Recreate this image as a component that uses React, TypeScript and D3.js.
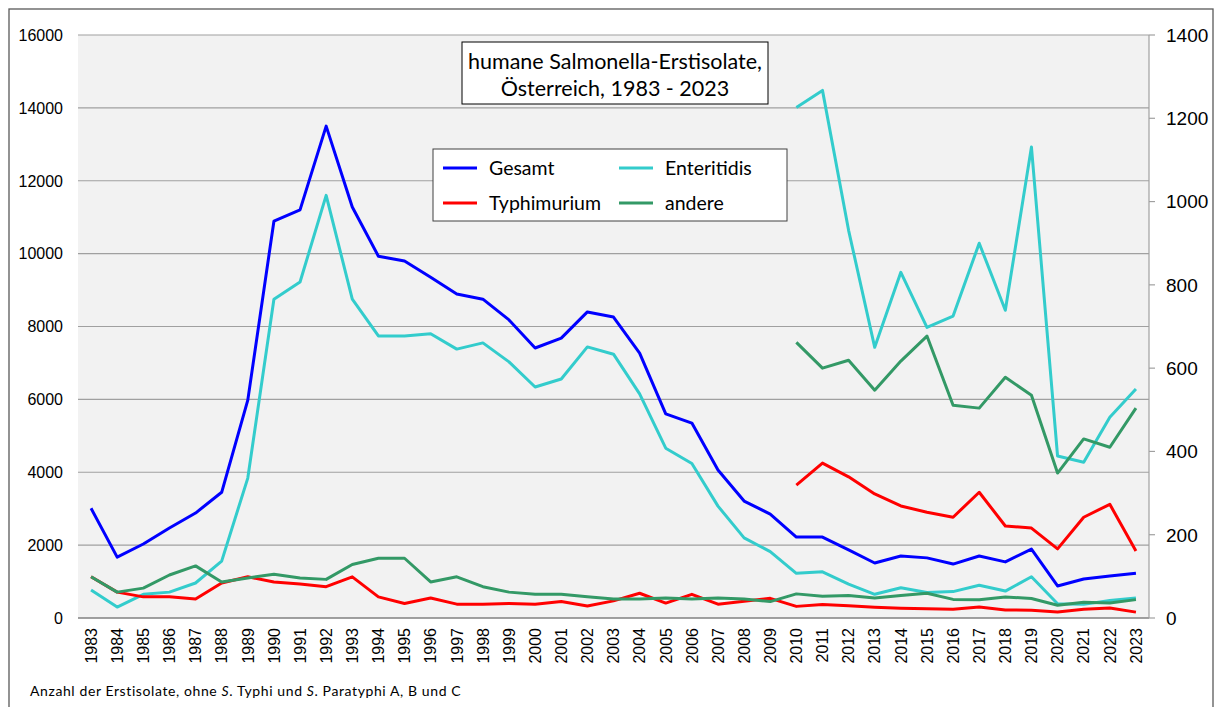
import * as d3 from 'd3'

// Jahre 1983 - 2023
const years: number[] = d3.range(1983, 2024)

// Linke Achse: absolute Zahlen 1983-2023
const gesamt = [
  3010, 1670, 2030, 2470, 2880, 3450, 5980, 10890, 11200, 13500, 11280, 9930, 9800,
  9350, 8890, 8750, 8180, 7410, 7680, 8400, 8260, 7270, 5600, 5350, 4060, 3210, 2850,
  2220, 2220, 1870, 1510, 1700, 1650, 1480, 1700, 1540, 1890, 880, 1070, 1150, 1230,
]
const enteritidis = [
  770, 300, 650, 710, 960, 1560, 3840, 8750, 9220, 11600, 8750, 7740, 7740, 7800,
  7380, 7550, 7030, 6340, 6560, 7440, 7240, 6150, 4660, 4240, 3070, 2200, 1820,
  1226, 1267, 931, 650, 830, 698, 725, 900, 739, 1131, 389, 374, 482, 550,
]
const typhimurium = [
  1130, 710, 580, 580, 520, 960, 1130, 990, 930, 860, 1130, 580, 400, 550, 380, 380,
  400, 380, 450, 330, 470, 680, 410, 650, 380, 460, 540,
  319, 372, 339, 298, 269, 254, 242, 302, 221, 216, 166, 242, 273, 161,
]
const andere = [
  1130, 710, 820, 1180, 1430, 990, 1100, 1200, 1100, 1060, 1470, 1640, 1640, 990,
  1130, 860, 710, 650, 650, 580, 520, 520, 550, 520, 550, 520, 450,
  662, 600, 619, 547, 617, 677, 511, 504, 578, 535, 348, 430, 410, 504,
]

// ab 2010 zusätzlich auf der rechten Achse
const rightFrom = 2010

const leftTicks = d3.range(0, 16001, 2000)
const rightTicks = d3.range(0, 1401, 200)

const series = [
  { name: 'Gesamt', values: gesamt, color: '#0000ff', right: false },
  { name: 'Enteritidis', values: enteritidis, color: '#33cccc', right: true },
  { name: 'Typhimurium', values: typhimurium, color: '#ff0000', right: true },
  { name: 'andere', values: andere, color: '#339966', right: true },
]

const legendOrder = ['Gesamt', 'Enteritidis', 'Typhimurium', 'andere']

export default function App() {
  const width = 1215
  const height = 707
  const left = 78
  const right = 1149
  const top = 35
  const bottom = 618

  const x = d3.scaleBand<number>().domain(years).range([left, right])
  const cx = (yr: number) => (x(yr) ?? 0) + x.bandwidth() / 2
  const yL = d3.scaleLinear().domain([0, 16000]).range([bottom, top])
  const yR = d3.scaleLinear().domain([0, 1400]).range([bottom, top])

  const lineL = d3
    .line<number>()
    .x((_, i) => cx(years[i]))
    .y(d => yL(d))
  const lineR = d3
    .line<[number, number]>()
    .x(d => cx(d[0]))
    .y(d => yR(d[1]))

  const axisFont = '"Liberation Sans", Arial, sans-serif'
  const boxFont = 'Lato, "Open Sans", sans-serif'

  return (
    <svg
      width={width}
      height={height}
      style={{ position: 'absolute', left: 0, top: 0, background: '#fff' }}
    >
      {/* Rahmen */}
      <rect x={9} y={9} width={1204} height={710} fill="#fff" stroke="#595959" strokeWidth={1.3} />

      {/* Plotfläche */}
      <rect x={left} y={top} width={right - left} height={bottom - top} fill="#f2f2f2" />

      {/* Gitternetz */}
      {leftTicks.map(t => (
        <g key={'gl' + t}>
          <line
            x1={left}
            x2={right}
            y1={yL(t)}
            y2={yL(t)}
            stroke={t === 0 ? '#808080' : '#a0a0a0'}
            strokeWidth={t === 0 ? 1.5 : 1.2}
          />
          <text
            x={63}
            y={yL(t)}
            dy="0.36em"
            textAnchor="end"
            fontFamily={axisFont}
            fontSize={16}
            fill="#000"
          >
            {t}
          </text>
        </g>
      ))}

      {/* rechte Achse */}
      <line x1={right} x2={right} y1={top} y2={bottom} stroke="#a0a0a0" strokeWidth={1.2} />
      {rightTicks.map(t => (
        <g key={'gr' + t}>
          <line x1={right} x2={right + 6} y1={yR(t)} y2={yR(t)} stroke="#a0a0a0" strokeWidth={1.2} />
          <text
            x={1166}
            y={yR(t)}
            dy="0.36em"
            fontFamily={axisFont}
            fontSize={19}
            fill="#000"
          >
            {t}
          </text>
        </g>
      ))}

      {/* Jahreslabels */}
      {years.map(yr => (
        <text
          key={'x' + yr}
          transform={`translate(${cx(yr)},${628}) rotate(-90)`}
          dy="0.36em"
          textAnchor="end"
          fontFamily={axisFont}
          fontSize={16}
          fill="#000"
        >
          {yr}
        </text>
      ))}

      {/* Linien linke Achse */}
      {series.map(s => (
        <path
          key={'l' + s.name}
          d={lineL(s.values) ?? ''}
          fill="none"
          stroke={s.color}
          strokeWidth={3}
          strokeLinejoin="round"
        />
      ))}

      {/* Linien rechte Achse ab 2010 */}
      {series
        .filter(s => s.right)
        .map(s => {
          const pts: [number, number][] = years
            .map((yr, i) => [yr, s.values[i]] as [number, number])
            .filter(d => d[0] >= rightFrom)
          return (
            <path
              key={'r' + s.name}
              d={lineR(pts) ?? ''}
              fill="none"
              stroke={s.color}
              strokeWidth={3}
              strokeLinejoin="round"
            />
          )
        })}

      {/* Titel */}
      <rect x={462} y={42} width={306} height={62} fill="#fff" stroke="#000" strokeWidth={1} />
      <text x={615} y={69} textAnchor="middle" fontFamily={boxFont} fontSize={21.5} fill="#000">
        humane Salmonella-Erstisolate,
      </text>
      <text x={615} y={96} textAnchor="middle" fontFamily={boxFont} fontSize={21.5} fill="#000">
        Österreich, 1983 - 2023
      </text>

      {/* Legende */}
      <rect x={433} y={149} width={354} height={72} fill="#fff" stroke="#404040" strokeWidth={1} />
      {legendOrder.map((name, i) => {
        const s = series.find(d => d.name === name)!
        const col = i % 2
        const row = Math.floor(i / 2)
        const lx = col === 0 ? 443 : 619
        const ly = row === 0 ? 168 : 203
        return (
          <g key={'lg' + name}>
            <line x1={lx} x2={lx + 34} y1={ly} y2={ly} stroke={s.color} strokeWidth={3} />
            <text x={lx + 46} y={ly} dy="0.36em" fontFamily={boxFont} fontSize={19.5} fill="#000">
              {name}
            </text>
          </g>
        )
      })}

      {/* Fußnote */}
      <text x={30} y={696} fontFamily={boxFont} fontSize={14} letterSpacing={0.6} fill="#000">
        Anzahl der Erstisolate, ohne <tspan fontStyle="italic">S</tspan>. Typhi und{' '}
        <tspan fontStyle="italic">S</tspan>. Paratyphi A, B und C
      </text>
    </svg>
  )
}
